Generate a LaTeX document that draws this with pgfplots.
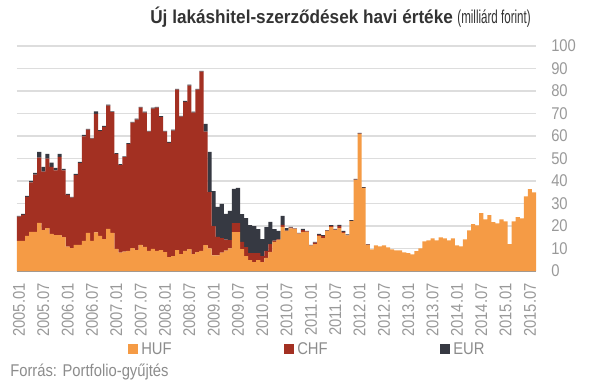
\documentclass[border=0pt]{standalone}
\usepackage{pgfplots}
\pgfplotsset{compat=1.18}
\usepackage{pgfplotstable}
\usepackage{fontspec}
\setmainfont{Liberation Sans}[FakeStretch=0.87]
\newfontfamily\titleb{Liberation Sans Bold}[FakeStretch=0.92]
\newfontfamily\titler{Liberation Sans}[FakeStretch=0.62]
\definecolor{hufc}{HTML}{F59B45}
\definecolor{chfc}{HTML}{A33022}
\definecolor{eurc}{HTML}{363942}
\definecolor{tickc}{HTML}{999999}
\definecolor{txtc}{HTML}{8C8C8C}
\definecolor{titlec}{HTML}{333333}
\definecolor{gridc}{HTML}{DDDDDD}
\definecolor{basec}{HTML}{999999}

\pgfplotstableread{
x huf chf eur
0 13.4 10.8 0.3
1 13.4 11.6 0.4
2 15.6 17.4 0.4
3 17.4 22.0 0.7
4 17.4 25.4 0.8
5 21.4 29.0 2.6
6 18.2 26.0 2.1
7 19.1 30.8 2.2
8 16.5 29.8 1.9
9 16.0 28.7 1.1
10 16.0 34.7 1.4
11 15.1 29.6 0.7
12 10.8 23.0 0.5
13 10.2 22.4 0.3
14 11.6 31.0 0.6
15 11.6 36.3 0.6
16 13.4 46.4 0.7
17 16.9 45.9 0.4
18 13.4 45.4 0.4
19 17.2 52.6 1.2
20 15.6 46.6 0.4
21 14.2 49.9 0.4
22 18.7 54.8 0.4
23 16.9 53.7 0.4
24 9.8 42.2 0.4
25 8.2 38.9 0.4
26 8.6 42.0 0.4
27 8.9 47.5 0.4
28 10.2 55.7 0.4
29 9.3 58.0 0.4
30 11.6 61.0 0.4
31 10.7 59.7 0.4
32 8.9 53.0 0.4
33 9.8 62.4 0.4
34 8.9 63.7 0.4
35 9.3 59.1 0.4
36 8.4 53.5 0.4
37 6.2 50.8 0.4
38 6.6 55.8 0.4
39 9.3 71.3 0.4
40 7.5 61.1 0.4
41 8.9 66.3 0.4
42 9.7 72.7 0.4
43 7.5 62.9 0.4
44 8.4 72.2 0.4
45 9.0 79.6 0.4
46 11.5 50.4 3.5
47 10.1 25.0 17.9
48 7.0 13.0 15.5
49 7.0 8.2 13.3
50 8.2 6.4 15.2
51 9.1 4.9 11.4
52 10.1 3.6 13.0
53 17.3 4.0 15.2
54 17.3 4.0 15.7
55 9.7 3.2 12.4
56 6.6 4.0 12.9
57 4.8 3.2 12.4
58 4.0 4.0 12.0
59 4.8 3.2 10.6
60 4.0 2.6 7.6
61 5.8 3.1 10.6
62 8.5 3.5 9.8
63 13.0 0.5 5.1
64 13.8 0.3 3.7
65 19.6 0.9 4.0
66 17.8 0.2 1.1
67 19.0 0.3 0.3
68 18.7 0.1 0.2
69 16.6 0.1 0.2
70 17.4 0.8 0.5
71 17.4 0.2 0.2
72 11.3 0.1 0.2
73 12.0 0.6 0.3
74 15.6 0.5 0.4
75 14.6 0.9 0.4
76 17.8 0.2 0.2
77 19.5 0.5 0.4
78 18.2 0.2 0.3
79 19.1 1.0 0.4
80 16.9 0.5 0.4
81 15.8 0.2 0.3
82 22.2 0.1 0.3
83 40.5 0.1 0.3
84 61.0 0.1 0.3
85 36.9 0.1 0.3
86 11.6 0.1 0.3
87 9.6 0 0
88 11.4 0 0
89 11.0 0 0
90 11.4 0 0
91 10.5 0 0
92 9.6 0 0
93 9.2 0 0
94 9.2 0 0
95 8.3 0 0
96 7.9 0 0
97 7.4 0 0
98 8.8 0 0
99 10.1 0 0
100 13.2 0 0
101 13.6 0 0
102 14.5 0 0
103 13.6 0 0
104 15.0 0 0
105 14.5 0 0
106 13.6 0 0
107 14.5 0 0
108 11.4 0 0
109 11.0 0 0
110 14.1 0 0
111 18.1 0 0
112 20.8 0 0
113 20.3 0 0
114 25.7 0 0
115 23.0 0 0
116 24.8 0 0
117 21.7 0 0
118 21.2 0 0
119 23.0 0 0
120 22.1 0 0
121 11.9 0 0
122 22.1 0 0
123 23.9 0 0
124 23.4 0 0
125 33.2 0 0
126 36.4 0 0
127 35.0 0 0
}\data

\begin{document}
\begin{tikzpicture}[x=0.75pt,y=0.75pt]
\useasboundingbox (-17,271) rectangle (590,-112);
\begin{axis}[
  at={(0,0)}, anchor=south west,
  scale only axis, width=389.25pt, height=168.75pt,
  xmin=-0.5, xmax=127.5, ymin=0, ymax=100,
  ybar stacked, bar width=1.02, 
  axis x line=bottom, axis y line=right,
  axis line style={-},
  x axis line style={draw=basec, line width=1.1pt},
  y axis line style={draw=none},
  major tick length=0pt,
  ytick={0,10,...,100},
  ymajorgrids, grid style={draw=gridc, line width=0.9pt},
  /pgf/number format/assume math mode=true,
  yticklabel style={font=\fontsize{12.75}{14}\selectfont, text=tickc, anchor=west, inner sep=0pt},
  yticklabel shift=11.25pt,
  xtick={0,6,...,126},
  xticklabels={2005.01,2005.07,2006.01,2006.07,2007.01,2007.07,2008.01,2008.07,2009.01,2009.07,2010.01,2010.07,2011.01,2011.07,2012.01,2012.07,2013.01,2013.07,2014.01,2014.07,2015.01,2015.07},
  xticklabel style={font=\fontsize{12.75}{14}\selectfont, text=tickc, rotate=90, anchor=east, inner sep=0pt},
  xticklabel shift=9pt,
]
\addplot[fill=hufc, draw=none] table[x=x, y=huf] {\data};
\addplot[fill=chfc, draw=none] table[x=x, y=chf] {\data};
\addplot[fill=eurc, draw=none] table[x=x, y=eur] {\data};
\end{axis}
\node[anchor=base east, text=titlec, inner sep=0pt] at (514,248) {\fontsize{14}{16}\selectfont{\titleb Új lakáshitel-szerződések havi értéke} {\titler (milliárd forint)}};
\fill[hufc] (111,-73) rectangle (121,-83);
\node[anchor=west, text=txtc, inner sep=0pt] at (124,-78) {\fontsize{12.75}{14}\selectfont HUF};
\fill[chfc] (267,-73) rectangle (277,-83);
\node[anchor=west, text=txtc, inner sep=0pt] at (280,-78) {\fontsize{12.75}{14}\selectfont CHF};
\fill[eurc] (423,-73) rectangle (433,-83);
\node[anchor=west, text=txtc, inner sep=0pt] at (436,-78) {\fontsize{12.75}{14}\selectfont EUR};
\node[anchor=west, text=txtc, inner sep=0pt] at (-7,-101) {\fontsize{12.75}{14}\selectfont Forrás: Portfolio-gyűjtés};
\end{tikzpicture}
\end{document}
